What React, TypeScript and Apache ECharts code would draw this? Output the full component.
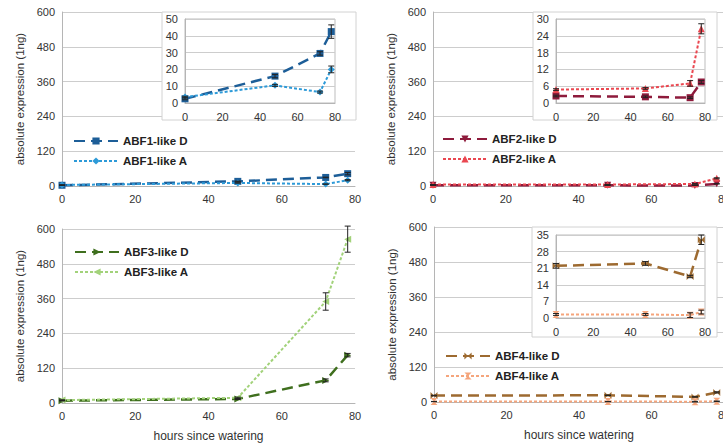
import React, { useEffect, useRef } from "react";
import * as echarts from "echarts";

// ---------- data ----------
const hours = [0, 48, 72, 78];

const abf1D = [2.5, 16, 29.5, 42.5];
const abf1DErr = [0.6, 1, 1, 4];
const abf1A = [3.5, 10.5, 6.5, 20];
const abf1AErr = [0.5, 0.6, 0.6, 2];

const abf2D = [2.5, 2.2, 1.9, 7.5];
const abf2DErr = [0.3, 0.3, 0.3, 0.5];
const abf2A = [4.8, 5.2, 7, 26.5];
const abf2AErr = [0.3, 0.3, 1, 1.8];

const abf3D = [8, 14, 78, 165];
const abf3DErr = [1, 2, 5, 6];
const abf3A = [10, 18, 350, 565];
const abf3AErr = [1, 2, 30, 45];

const abf4D = [22, 23, 17.5, 33];
const abf4DErr = [1, 0.8, 0.5, 2];
const abf4A = [1.5, 1.5, 1.2, 2.5];
const abf4AErr = [0.4, 0.4, 1, 0.8];

const seriesNames = [
  ["ABF1-like D", "ABF1-like A"],
  ["ABF2-like D", "ABF2-like A"],
  ["ABF3-like D", "ABF3-like A"],
  ["ABF4-like D", "ABF4-like A"],
];

const xAxisTitle = "hours since watering";
const yAxisTitle = "absolute expression (1ng)";
const mainYMax = 600;
const mainYStep = 120;
const insetYMax = [50, 30, null, 35];
const insetYStep = [10, 6, null, 7];

// ---------- styles / layout ----------
const colors = [
  ["#1d5e98", "#2d9ad8"],
  ["#8e1b3c", "#ea4750"],
  ["#3f6f1e", "#a2d27a"],
  ["#9d6a30", "#f5a57c"],
];
const bowtie = "path://M0,0L5,5L0,10ZM10,0L5,5L10,10Z";
const hourglass = "path://M0,0L10,0L5,5ZM0,10L10,10L5,5Z";
const symbols = [
  [{ s: "rect", r: 0, is: "rect" }, { s: "diamond", r: 0, is: "diamond" }],
  [{ s: "triangle", r: 180, is: "rect" }, { s: "triangle", r: 0, is: "triangle" }],
  [{ s: "triangle", r: -90, is: "triangle" }, { s: "triangle", r: 90, is: "triangle" }],
  [{ s: bowtie, r: 0, is: bowtie }, { s: hourglass, r: 0, is: hourglass }],
];
const mainGrids = [
  { left: 62, top: 12, width: 293, height: 174 },
  { left: 433, top: 12, width: 291, height: 174 },
  { left: 62, top: 229, width: 293, height: 174 },
  { left: 434, top: 227, width: 290, height: 175 },
];
const insetGrids = [
  { left: 185, top: 19, width: 150, height: 84 },
  { left: 556, top: 19, width: 149, height: 84 },
  null,
  { left: 556, top: 235, width: 149, height: 83 },
];
const insetBoxes = [
  { x: 162, y: 12, w: 194, h: 108 },
  { x: 533, y: 12, w: 184, h: 108 },
  null,
  { x: 532, y: 227, w: 185, h: 110 },
];
const legendPos = [
  { left: 73, top: 135 },
  { left: 442, top: 133 },
  { left: 74, top: 246 },
  { left: 445, top: 350 },
];

const FONT = "'Liberation Sans', Arial, sans-serif";

export default function App() {
  const ref = useRef<HTMLDivElement>(null);
  useEffect(() => {
    if (!ref.current) return;
    const chart = echarts.init(ref.current, undefined, { renderer: "svg" });
    const data = [
      [abf1D, abf1A, abf1DErr, abf1AErr],
      [abf2D, abf2A, abf2DErr, abf2AErr],
      [abf3D, abf3A, abf3DErr, abf3AErr],
      [abf4D, abf4A, abf4DErr, abf4AErr],
    ];
    const grids: any[] = [];
    const xAxes: any[] = [];
    const yAxes: any[] = [];
    const series: any[] = [];
    const legends: any[] = [];
    const graphics: any[] = [];

    const errRender = (params: any, api: any) => {
      const x = api.value(0);
      const y = api.value(1);
      const e = api.value(2);
      const t = api.coord([x, y + e]);
      const b = api.coord([x, y - e]);
      const st = { stroke: "#222", lineWidth: 1 };
      return {
        type: "group",
        children: [
          { type: "line", shape: { x1: t[0], y1: t[1], x2: b[0], y2: b[1] }, style: st },
          { type: "line", shape: { x1: t[0] - 3, y1: t[1], x2: t[0] + 3, y2: t[1] }, style: st },
          { type: "line", shape: { x1: b[0] - 3, y1: b[1], x2: b[0] + 3, y2: b[1] }, style: st },
        ],
      };
    };

    const addSeries = (p: number, gi: number, inset: boolean) => {
      const [dv, av, de, ae] = data[p];
      const vals = [dv, av];
      const errs = [de, ae];
      for (let k = 0; k < 2; k++) {
        const sym = symbols[p][k];
        series.push({
          type: "line",
          name: seriesNames[p][k],
          xAxisIndex: gi,
          yAxisIndex: gi,
          data: hours.map((h, i) => [h, vals[k][i]]),
          symbol: inset ? sym.is : sym.s,
          symbolRotate: inset && sym.is !== sym.s ? 0 : sym.r,
          symbolSize: 7,
          showSymbol: true,
          lineStyle: {
            color: colors[p][k],
            width: k === 0 ? 2.5 : 2,
            type: k === 0 ? [11, 6] : [3, 2],
          },
          itemStyle: { color: colors[p][k] },
          z: inset ? 30 : 2,
        });
        series.push({
          type: "custom",
          xAxisIndex: gi,
          yAxisIndex: gi,
          renderItem: errRender,
          encode: { x: 0, y: 1 },
          data: hours.map((h, i) => [h, vals[k][i], errs[k][i]]),
          z: inset ? 31 : 3,
          silent: true,
        });
      }
    };

    const labelStyle = { fontSize: 11, color: "#333", fontFamily: FONT };

    for (let p = 0; p < 4; p++) {
      const gi = grids.length;
      grids.push({ ...mainGrids[p], containLabel: false });
      const bottom = p >= 2;
      xAxes.push({
        type: "value",
        gridIndex: gi,
        min: 0,
        max: 80,
        interval: 20,
        axisLine: { show: true, lineStyle: { color: "#b5b5b5" } },
        axisTick: { show: false },
        splitLine: { show: false },
        axisLabel: { ...labelStyle, margin: 7 },
        name: bottom ? xAxisTitle : "",
        nameLocation: "middle",
        nameGap: 27,
        nameTextStyle: { fontSize: 12, color: "#333", fontFamily: FONT },
      });
      yAxes.push({
        type: "value",
        gridIndex: gi,
        min: 0,
        max: mainYMax,
        interval: mainYStep,
        axisLine: { show: true, lineStyle: { color: "#b5b5b5" } },
        axisTick: { show: false },
        splitLine: { show: true, lineStyle: { color: "#cdcdcd" } },
        axisLabel: { ...labelStyle, margin: 7 },
        name: yAxisTitle,
        nameLocation: "middle",
        nameGap: 36,
        nameRotate: 90,
        nameTextStyle: { fontSize: 11.5, color: "#333", fontFamily: FONT },
      });
      addSeries(p, gi, false);
      legends.push({
        data: seriesNames[p],
        ...legendPos[p],
        orient: "vertical",
        itemWidth: 44,
        itemHeight: 9,
        itemGap: 8,
        padding: 0,
        textStyle: { fontWeight: "bold", fontSize: 11.5, color: "#222", fontFamily: FONT },
        selectedMode: false,
      });
    }

    for (let p = 0; p < 4; p++) {
      const ig = insetGrids[p];
      const box = insetBoxes[p];
      if (!ig || !box) continue;
      graphics.push({
        type: "rect",
        shape: { x: box.x, y: box.y, width: box.w, height: box.h },
        style: { fill: "#fff", stroke: "#d2d2d2", lineWidth: 1 },
        z: 10,
      });
      const gi = grids.length;
      grids.push({ ...ig, show: true, borderColor: "#bdbdbd", borderWidth: 1, backgroundColor: "transparent", z: 15 });
      xAxes.push({
        type: "value",
        gridIndex: gi,
        min: 0,
        max: 80,
        interval: 20,
        axisLine: { show: true, lineStyle: { color: "#b5b5b5" } },
        axisTick: { show: false },
        splitLine: { show: false },
        axisLabel: { ...labelStyle, margin: 8 },
        z: 20,
      });
      yAxes.push({
        type: "value",
        gridIndex: gi,
        min: 0,
        max: insetYMax[p],
        interval: insetYStep[p],
        axisLine: { show: true, lineStyle: { color: "#b5b5b5" } },
        axisTick: { show: false },
        splitLine: { show: true, lineStyle: { color: "#cdcdcd" } },
        axisLabel: { ...labelStyle, margin: 7 },
        z: 20,
      });
      addSeries(p, gi, true);
    }

    chart.setOption({
      animation: false,
      backgroundColor: "#fff",
      textStyle: { fontFamily: FONT },
      grid: grids,
      xAxis: xAxes,
      yAxis: yAxes,
      legend: legends,
      series,
      graphic: graphics,
    });
    return () => chart.dispose();
  }, []);

  return (
    <div style={{ position: "absolute", left: 0, top: 0, width: 723, height: 446, overflow: "hidden", background: "#fff" }}>
      <div ref={ref} style={{ width: 760, height: 446 }} />
    </div>
  );
}
